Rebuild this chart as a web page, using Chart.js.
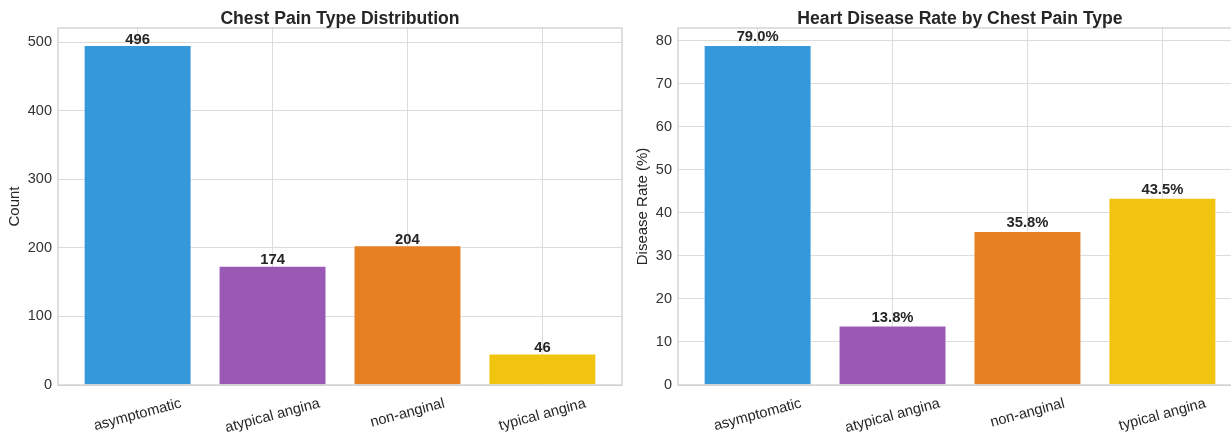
<!DOCTYPE html>
<html>
<head>
<meta charset="utf-8">
<script src="https://cdn.jsdelivr.net/npm/chart.js@4.4.1/dist/chart.umd.min.js"></script>
<style>
    html, body { margin: 0; padding: 0; background: #fff; overflow: hidden; width: 1231px; height: 433px; }
    .box { position: absolute; top: 0; }
</style>
</head>
<body>
<div class="box" style="left:0"><canvas id="countChart" width="640" height="433"></canvas></div>
<div class="box" style="left:620px"><canvas id="rateChart" width="640" height="433"></canvas></div>
<script>
const categories = ["asymptomatic", "atypical angina", "non-anginal", "typical angina"];
const counts = [496, 174, 204, 46];
const rates = [79.0, 13.8, 35.8, 43.5];
const countTicks = [0, 100, 200, 300, 400, 500];
const rateTicks = [0, 10, 20, 30, 40, 50, 60, 70, 80];
const barColors = ["#3498db", "#9b59b6", "#e67e22", "#f1c40f"];

const textColor = "#262626";
const fontFamily = "'Liberation Sans', Arial, sans-serif";
const gridColor = "#dcdcdc";

// per canvas: title, values, label format and gap above bar
const decorData = {};

// titles, frame, value labels and tilted category labels
const decorPlugin = {
    id: "decor",
    afterDraw(chart) {
        const o = decorData[chart.canvas.id];
        const { ctx, chartArea: a } = chart;
        const x = chart.scales.x;
        const y = chart.scales.y;
        ctx.save();
        ctx.strokeStyle = "#cccccc";
        ctx.lineWidth = 1.25;
        ctx.strokeRect(a.left, a.top, a.right - a.left, a.bottom - a.top);

        ctx.fillStyle = textColor;
        ctx.font = "bold 17.6px " + fontFamily;
        ctx.textAlign = "center";
        ctx.textBaseline = "alphabetic";
        ctx.fillText(o.title, (a.left + a.right) / 2, 24);

        ctx.font = "bold 14.8px " + fontFamily;
        o.values.forEach(function (v, i) {
            ctx.fillText(o.format(v), x.getPixelForValue(i), y.getPixelForValue(v) - o.gap);
        });

        const th = (15 * Math.PI) / 180;
        ctx.font = "14.6px " + fontFamily;
        ctx.textBaseline = "middle";
        categories.forEach(function (c, i) {
            const w = ctx.measureText(c).width;
            const h = 14.6 * 1.16;
            const H = w * Math.sin(th) + h * Math.cos(th);
            ctx.save();
            ctx.translate(x.getPixelForValue(i), a.bottom + 10 + H / 2);
            ctx.rotate(-th);
            ctx.fillText(c, 0, 0);
            ctx.restore();
        });
        ctx.restore();
    },
};

function makeChart(id, values, ticks, yLabel, yTitlePad, title, format, gap) {
    decorData[id] = { title: title, values: values, format: format, gap: gap };
    const ctx = document.getElementById(id).getContext("2d");
    return new Chart(ctx, {
        type: "bar",
        data: {
            datasets: [
                {
                    data: values.map(function (v, i) { return { x: i, y: v }; }),
                    backgroundColor: barColors,
                    borderColor: "rgba(255,255,255,0.5)",
                    borderWidth: 1,
                    categoryPercentage: 1,
                    barPercentage: 0.8,
                },
            ],
        },
        options: {
            responsive: false,
            devicePixelRatio: 1,
            animation: false,
            layout: { padding: { top: 28, right: 18, left: 0, bottom: 0 } },
            plugins: {
                legend: { display: false },
                tooltip: { enabled: false },
            },
            scales: {
                x: {
                    type: "linear",
                    min: -0.59,
                    max: 3.59,
                    offset: false,
                    grid: { offset: false, color: gridColor, drawTicks: false },
                    border: { display: false },
                    ticks: { display: false },
                    afterBuildTicks: function (s) {
                        s.ticks = categories.map(function (c, i) { return { value: i }; });
                    },
                    afterFit: function (s) { s.height = 48; },
                },
                y: {
                    min: 0,
                    max: Math.max(...values) * 1.05,
                    grid: { color: gridColor, drawTicks: false },
                    border: { display: false },
                    ticks: { padding: 6, color: "#333333", font: { size: 14.5, family: fontFamily } },
                    afterBuildTicks: function (s) {
                        s.ticks = ticks.map(function (v) { return { value: v }; });
                    },
                    afterFit: function (s) { s.width = 58; },
                    title: {
                        display: true,
                        text: yLabel,
                        color: textColor,
                        font: { size: 15, family: fontFamily },
                        padding: { top: yTitlePad, bottom: 0 },
                    },
                },
            },
        },
        plugins: [decorPlugin],
    });
}

makeChart("countChart", counts, countTicks, "Count", 6, "Chest Pain Type Distribution",
    function (v) { return String(v); }, 1.5);
makeChart("rateChart", rates, rateTicks, "Disease Rate (%)", 14, "Heart Disease Rate by Chest Pain Type",
    function (v) { return v.toFixed(1) + "%"; }, 4);
</script>
</body>
</html>
